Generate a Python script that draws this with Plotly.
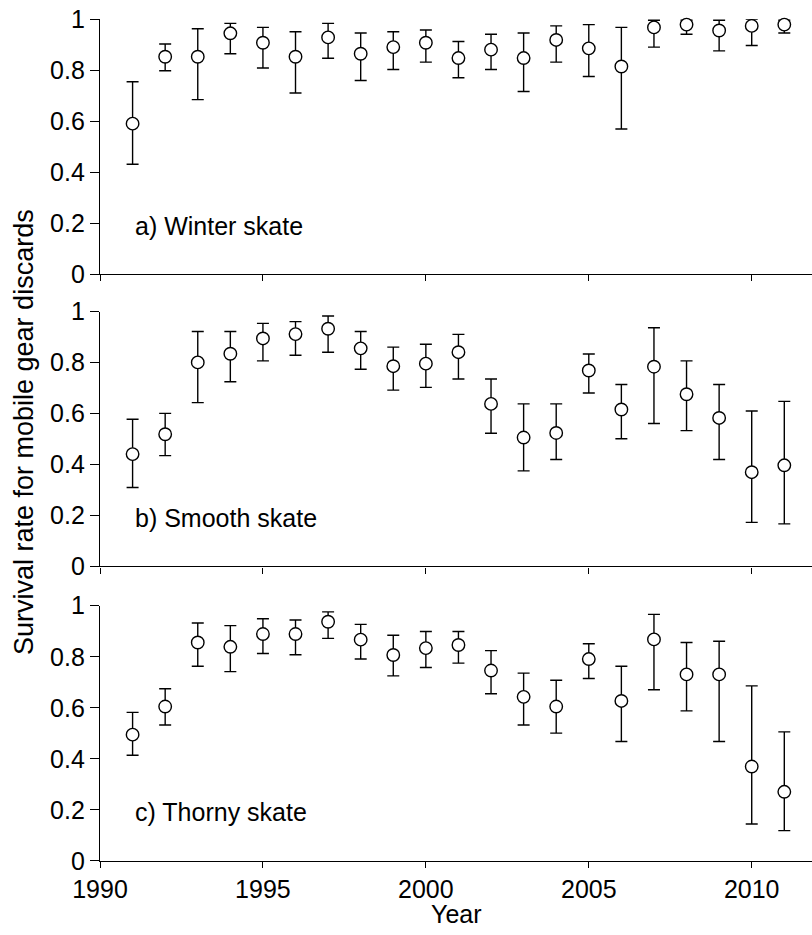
import plotly.graph_objects as go

# Survey years
years = list(range(1991, 2012))

# a) Winter skate: estimate, upper and lower bounds
winter = [0.590, 0.852, 0.852, 0.944, 0.907, 0.852, 0.928, 0.864, 0.890, 0.907,
          0.847, 0.880, 0.847, 0.918, 0.885, 0.814, 0.967, 0.978, 0.955, 0.973, 0.978]
winter_hi = [0.754, 0.902, 0.962, 0.983, 0.967, 0.950, 0.983, 0.945, 0.950, 0.957,
             0.912, 0.940, 0.945, 0.973, 0.978, 0.967, 0.995, 0.995, 0.995, 1.000, 0.995]
winter_lo = [0.431, 0.797, 0.684, 0.864, 0.808, 0.710, 0.846, 0.759, 0.802, 0.831,
             0.770, 0.802, 0.716, 0.831, 0.775, 0.569, 0.890, 0.940, 0.875, 0.896, 0.945]

# b) Smooth skate
smooth = [0.441, 0.519, 0.801, 0.835, 0.895, 0.912, 0.933, 0.856, 0.786, 0.796,
          0.841, 0.638, 0.506, 0.524, 0.769, 0.616, 0.784, 0.676, 0.583, 0.370, 0.397]
smooth_hi = [0.578, 0.601, 0.922, 0.922, 0.954, 0.961, 0.983, 0.922, 0.861, 0.872,
             0.911, 0.736, 0.638, 0.638, 0.834, 0.714, 0.937, 0.807, 0.714, 0.610, 0.648]
smooth_lo = [0.310, 0.435, 0.643, 0.725, 0.807, 0.829, 0.841, 0.774, 0.692, 0.703,
             0.736, 0.523, 0.375, 0.420, 0.681, 0.501, 0.561, 0.533, 0.420, 0.173, 0.167]

# c) Thorny skate
thorny = [0.495, 0.605, 0.856, 0.839, 0.889, 0.889, 0.937, 0.867, 0.807, 0.834,
          0.846, 0.746, 0.643, 0.605, 0.791, 0.627, 0.868, 0.731, 0.731, 0.370, 0.271]
thorny_hi = [0.582, 0.675, 0.932, 0.922, 0.949, 0.944, 0.976, 0.927, 0.884, 0.899,
             0.899, 0.824, 0.736, 0.708, 0.851, 0.763, 0.966, 0.856, 0.861, 0.686, 0.506]
thorny_lo = [0.414, 0.533, 0.763, 0.742, 0.813, 0.808, 0.872, 0.791, 0.725, 0.758,
             0.775, 0.655, 0.533, 0.501, 0.715, 0.468, 0.671, 0.588, 0.468, 0.145, 0.119]

panel_labels = ["a) Winter skate", "b) Smooth skate", "c) Thorny skate"]
x_ticks = [1990, 1995, 2000, 2005, 2010]
y_ticks = [0, 0.2, 0.4, 0.6, 0.8, 1]

FONT = "Liberation Sans, Arial, sans-serif"
series = [(winter, winter_hi, winter_lo),
          (smooth, smooth_hi, smooth_lo),
          (thorny, thorny_hi, thorny_lo)]
domains = [[0.6968, 1.0], [0.3498, 0.6524], [0.0, 0.3032]]

fig = go.Figure()
layout = dict(
    width=812, height=935,
    margin=dict(l=100, r=0, t=19, b=74),
    paper_bgcolor="white", plot_bgcolor="white",
    showlegend=False,
    font=dict(family=FONT, size=25, color="black"),
)

annotations = []
for i, (est, hi, lo) in enumerate(series):
    n = i + 1
    xa = "x" if n == 1 else f"x{n}"
    ya = "y" if n == 1 else f"y{n}"
    fig.add_trace(go.Scatter(
        x=years, y=est, xaxis=xa, yaxis=ya, mode="markers",
        cliponaxis=False,
        marker=dict(symbol="circle", size=12.5, color="white",
                    line=dict(color="black", width=1.4)),
        error_y=dict(type="data", symmetric=False,
                     array=[h - e for h, e in zip(hi, est)],
                     arrayminus=[e - l for e, l in zip(est, lo)],
                     color="black", thickness=1.4, width=6),
    ))
    xkey = "xaxis" if n == 1 else f"xaxis{n}"
    ykey = "yaxis" if n == 1 else f"yaxis{n}"
    layout[xkey] = dict(
        domain=[0, 1], anchor=ya, range=[1990, 2011.85],
        tickvals=x_ticks, ticks="outside", ticklen=6, tickwidth=1.4,
        tickcolor="black", showline=True, linecolor="black", linewidth=1.4,
        showgrid=False, zeroline=False, showticklabels=(n == 3),
        tickfont=dict(family=FONT, size=25),
    )
    layout[ykey] = dict(
        domain=domains[i], anchor=xa, range=[0, 1],
        tickvals=y_ticks, ticks="outside", ticklen=9, tickwidth=1.4,
        tickcolor="black", showline=True, linecolor="black", linewidth=1.4,
        showgrid=False, zeroline=False, tickfont=dict(family=FONT, size=25),
    )
    annotations.append(dict(
        x=1991.0, y=0.19, xref=xa, yref=ya, text=panel_labels[i],
        showarrow=False, xanchor="left", yanchor="middle",
        font=dict(family=FONT, size=25, color="black"),
    ))

# x-axis title, placed just under the year labels
annotations.append(dict(
    x=0.5, y=-0.063, xref="paper", yref="paper", text="Year",
    showarrow=False, xanchor="center", yanchor="middle",
    font=dict(family=FONT, size=25, color="black"),
))

# shared y-axis title for the three panels
annotations.append(dict(
    x=-0.1067, y=0.5095, xref="paper", yref="paper",
    text="Survival rate for mobile gear discards", textangle=-90,
    showarrow=False, xanchor="center", yanchor="middle",
    font=dict(family=FONT, size=27, color="black"),
))
layout["annotations"] = annotations

fig.update_layout(**layout)
fig.write_html("out.html")
